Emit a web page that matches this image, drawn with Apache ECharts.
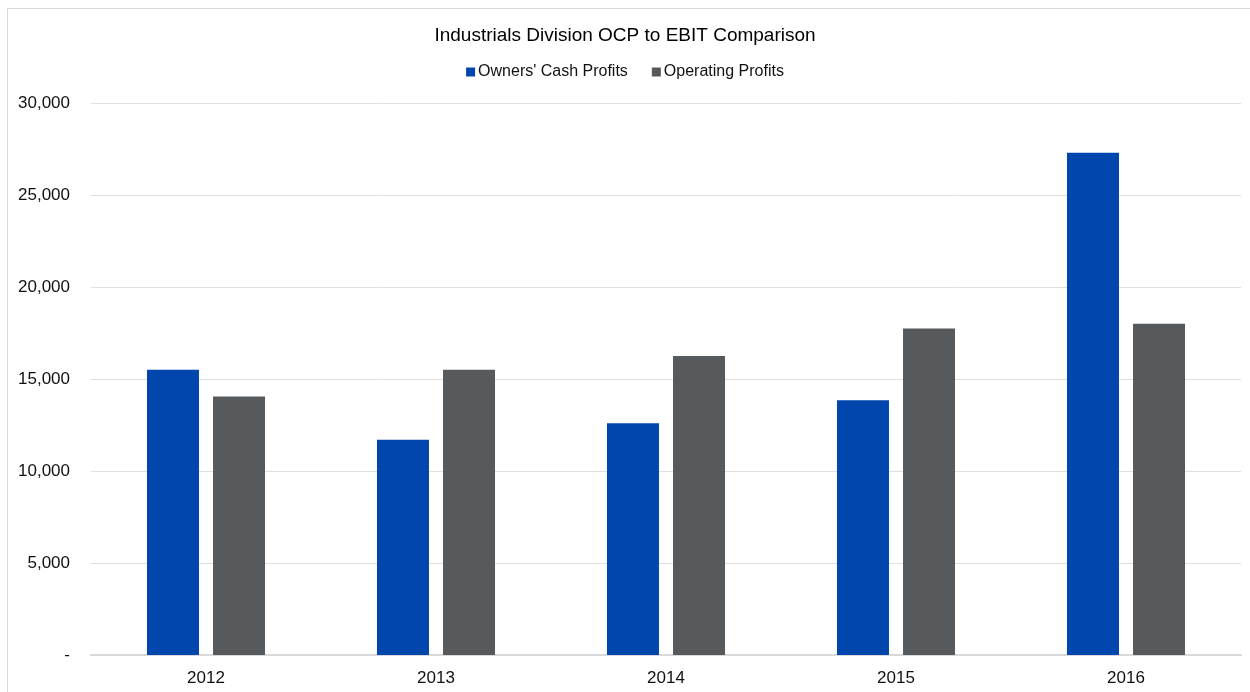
<!DOCTYPE html>
<html><head><meta charset="utf-8">
<script src="https://cdn.jsdelivr.net/npm/echarts@6/dist/echarts.min.js"></script>
<style>
html,body{margin:0;padding:0;background:#fff;}
#frame{position:absolute;left:7px;top:8px;width:1250px;height:700px;border:1px solid #d9d9d9;}
#chart{position:absolute;left:0;top:0;width:1250px;height:692px;}
</style></head>
<body>
<div id="frame"></div>
<div id="chart"></div>
<script>
const categories = ['2012','2013','2014','2015','2016'];
const ownersCashProfits = [15500, 11700, 12600, 13850, 27300];
const operatingProfits = [14050, 15500, 16250, 17750, 18000];
const seriesNames = ["Owners' Cash Profits", 'Operating Profits'];
const font = '"Liberation Sans Narrow", "Arial Narrow", "Liberation Sans", sans-serif';

const chart = echarts.init(document.getElementById('chart'));
chart.setOption({
  animation: false,
  title: {
    text: 'Industrials Division OCP to EBIT Comparison',
    left: 'center', top: 21,
    textStyle: {fontFamily: font, fontSize: 19, fontWeight: 'normal', color: '#000'}
  },
  legend: {
    top: 59, left: 'center',
    itemWidth: 9, itemHeight: 9, itemGap: 24,
    icon: 'rect',
    textStyle: {fontFamily: font, fontSize: 16, color: '#111', padding: [0,0,0,-2]},
    data: seriesNames
  },
  grid: {left: 91, right: 9, top: 103, bottom: 37},
  xAxis: {
    type: 'category', data: categories,
    axisLine: {lineStyle: {color: '#d9d9d9', width: 2}},
    axisTick: {show: false},
    axisLabel: {fontFamily: font, fontSize: 17, color: '#111', margin: 15}
  },
  yAxis: {
    type: 'value', min: 0, max: 30000, interval: 5000,
    axisLine: {show: false}, axisTick: {show: false},
    splitLine: {lineStyle: {color: '#e0e0e0', width: 1}},
    axisLabel: {
      fontFamily: font, fontSize: 17, color: '#111', margin: 21,
      formatter: v => v === 0 ? '-' : v.toLocaleString('en-US')
    }
  },
  series: [
    {name: seriesNames[0], type: 'bar', data: ownersCashProfits, barWidth: 52, barGap: '27%',
     itemStyle: {color: '#0046AD'}},
    {name: seriesNames[1], type: 'bar', data: operatingProfits, barWidth: 52,
     itemStyle: {color: '#575A5D'}}
  ]
});
</script>
</body></html>
